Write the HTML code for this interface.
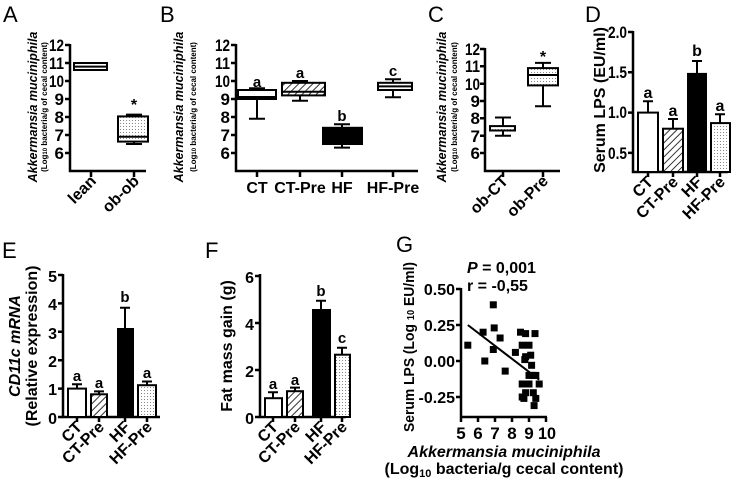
<!DOCTYPE html>
<html><head><meta charset="utf-8"><style>
html,body{margin:0;padding:0;background:#fff;}
svg{display:block;font-family:"Liberation Sans",Arial,sans-serif;}
.t{font-weight:bold;font-size:16px;}
.n{font-weight:bold;font-size:17px;}
.s{font-weight:bold;font-size:15px;}
.L{font-size:22px;}
.ax{stroke:#000;stroke-width:2.5;fill:none;}
.b{stroke:#000;stroke-width:2;}
</style></head><body>
<svg width="735" height="479" viewBox="0 0 735 479">
<defs>
<pattern id="h" width="5" height="5" patternUnits="userSpaceOnUse" patternTransform="rotate(45)"><rect width="5" height="5" fill="#fff"/><line x1="0" y1="0" x2="0" y2="5" stroke="#000" stroke-width="1.6"/></pattern>
<pattern id="d" width="3" height="3" patternUnits="userSpaceOnUse"><rect width="3" height="3" fill="#fff"/><rect width="1" height="1" fill="#888"/></pattern>
</defs>

<!-- A -->
<text x="3" y="22" class="L">A</text>
<text transform="translate(37,107) rotate(-90)" text-anchor="middle" font-size="12.5" font-weight="bold" font-style="italic">Akkermansia muciniphila</text>
<text transform="translate(47,107) rotate(-90)" text-anchor="middle" font-size="8" font-weight="bold">(Log<tspan font-size="6">10</tspan> bacteria/g of cecal content)</text>
<path class="ax" d="M70,44V171H146M91,171v6M134,171v6"/>
<g class="ax"><path d="M65,45h5M65,63h5M65,81h5M65,99h5M65,117h5M65,135h5M65,153h5"/></g>
<g class="n" text-anchor="end"><text x="64" y="51" textLength="15" lengthAdjust="spacingAndGlyphs">12</text><text x="64" y="69" textLength="15" lengthAdjust="spacingAndGlyphs">11</text><text x="64" y="87" textLength="15" lengthAdjust="spacingAndGlyphs">10</text><text x="64" y="105">9</text><text x="64" y="123">8</text><text x="64" y="141">7</text><text x="64" y="159">6</text></g>
<rect x="74" y="63" width="33" height="7" fill="#fff" class="b"/><line x1="74" y1="66.6" x2="107" y2="66.6" class="b"/>
<path class="b" d="M126,114.6h16M134,114.6V116.4M126,144h16M134,144v-2.4"/>
<rect x="118" y="116.4" width="30" height="25.2" fill="url(#d)" class="b"/><line x1="118" y1="136.8" x2="148" y2="136.8" class="b"/>
<text x="134" y="110" text-anchor="middle" class="t">*</text>
<g class="t" text-anchor="end"><text transform="translate(97,182) rotate(-45)">lean</text><text transform="translate(140,182) rotate(-45)">ob-ob</text></g>

<!-- B -->
<text x="160" y="22" class="L">B</text>
<text transform="translate(183,107) rotate(-90)" text-anchor="middle" font-size="12.5" font-weight="bold" font-style="italic">Akkermansia muciniphila</text>
<text transform="translate(196,107) rotate(-90)" text-anchor="middle" font-size="8" font-weight="bold">(Log<tspan font-size="6">10</tspan> bacteria/g of cecal content)</text>
<path class="ax" d="M236,44V171H418M257,171v6M300,171v6M342,171v6M393,171v6"/>
<g class="ax"><path d="M231,45h5M231,63h5M231,81h5M231,99h5M231,117h5M231,135h5M231,153h5"/></g>
<g class="n" text-anchor="end"><text x="230" y="51" textLength="15" lengthAdjust="spacingAndGlyphs">12</text><text x="230" y="69" textLength="15" lengthAdjust="spacingAndGlyphs">11</text><text x="230" y="87" textLength="15" lengthAdjust="spacingAndGlyphs">10</text><text x="230" y="105">9</text><text x="230" y="123">8</text><text x="230" y="141">7</text><text x="230" y="159">6</text></g>
<path class="b" d="M249,88.2h16M257,88.2V118.8M249,118.8h16"/>
<rect x="238" y="90" width="38" height="9" fill="#fff" class="b"/><line x1="238" y1="97" x2="276" y2="97" class="b"/>
<path class="b" d="M292,81h16M300,81v20M292,100.8h16"/>
<rect x="282" y="82.8" width="43" height="12.6" fill="url(#h)" class="b"/><line x1="282" y1="91.8" x2="325" y2="91.8" class="b"/>
<path class="b" d="M334,124.2h16M342,124.2v24M334,147.6h16"/>
<rect x="323" y="127.8" width="39" height="16.2" fill="#000" class="b"/>
<path class="b" d="M385,79.2h16M393,79.2v18M385,97.2h16"/>
<rect x="378" y="82.8" width="34" height="7.2" fill="#fff" class="b"/><line x1="378" y1="86.4" x2="412" y2="86.4" class="b"/>
<g class="s" text-anchor="middle"><text x="257" y="87">a</text><text x="300" y="78">a</text><text x="342" y="121">b</text><text x="393" y="76">c</text></g>
<g class="t" text-anchor="middle"><text x="257" y="193">CT</text><text x="300" y="193">CT-Pre</text><text x="342" y="193">HF</text><text x="393" y="193">HF-Pre</text></g>

<!-- C -->
<text x="428" y="22" class="L">C</text>
<text transform="translate(446,107) rotate(-90)" text-anchor="middle" font-size="12.5" font-weight="bold" font-style="italic">Akkermansia muciniphila</text>
<text transform="translate(457,107) rotate(-90)" text-anchor="middle" font-size="8" font-weight="bold">(Log<tspan font-size="6">10</tspan> bacteria/g of cecal content)</text>
<path class="ax" d="M485,48V171H560M503,171v6M543,171v6"/>
<g class="ax"><path d="M480,49h5M480,66.3h5M480,83.7h5M480,101h5M480,118.3h5M480,135.7h5M480,153h5"/></g>
<g class="n" text-anchor="end"><text x="480" y="55" textLength="15" lengthAdjust="spacingAndGlyphs">12</text><text x="480" y="72" textLength="15" lengthAdjust="spacingAndGlyphs">11</text><text x="480" y="90" textLength="15" lengthAdjust="spacingAndGlyphs">10</text><text x="480" y="107">9</text><text x="480" y="124">8</text><text x="480" y="142">7</text><text x="480" y="159">6</text></g>
<path class="b" d="M495,117.5h16M503,117.5v18M495,135.7h16"/>
<rect x="490" y="126.1" width="25" height="4.4" fill="url(#d)" class="b"/>
<path class="b" d="M535,62.9h16M543,62.9v43.3M535,106.2h16"/>
<rect x="528" y="68.1" width="30" height="17.3" fill="url(#d)" class="b"/><line x1="528" y1="75" x2="558" y2="75" class="b"/>
<text x="543" y="62" text-anchor="middle" class="t">*</text>
<g class="t" text-anchor="end"><text transform="translate(509,182) rotate(-45)">ob-CT</text><text transform="translate(549,182) rotate(-45)">ob-Pre</text></g>

<!-- D -->
<text x="585" y="22" class="L">D</text>
<text transform="translate(605,100) rotate(-90)" text-anchor="middle" class="t">Serum LPS (EU/ml)</text>
<path class="ax" d="M633,31V172H728M648,172v5M673,172v5M697,172v5M720,172v5"/>
<g class="ax"><path d="M628,32h5M628,72.3h5M628,112.6h5M628,152.9h5"/></g>
<g class="n" text-anchor="end"><text x="627" y="38" textLength="19" lengthAdjust="spacingAndGlyphs">2.0</text><text x="627" y="78" textLength="19" lengthAdjust="spacingAndGlyphs">1.5</text><text x="627" y="118" textLength="19" lengthAdjust="spacingAndGlyphs">1.0</text><text x="627" y="159" textLength="19" lengthAdjust="spacingAndGlyphs">0.5</text></g>
<path class="b" d="M648,112.6V101.3M643,101.3h10M673,128.7V119M668,119h10M697,73.9V61M692,61h10M720,123.1V114.2M715,114.2h10"/>
<rect x="638" y="112.6" width="20" height="59.4" fill="#fff" class="b"/>
<rect x="663" y="128.7" width="20" height="43.3" fill="url(#h)" class="b"/>
<rect x="688" y="73.9" width="18" height="98.1" fill="#000" class="b"/>
<rect x="711" y="123.1" width="19" height="48.9" fill="url(#d)" class="b"/>
<g class="t" text-anchor="middle"><text x="648" y="98">a</text><text x="673" y="116">a</text><text x="697" y="56">b</text><text x="720" y="111">a</text></g>
<g class="t" text-anchor="end"><text transform="translate(654,183) rotate(-45)">CT</text><text transform="translate(679,183) rotate(-45)">CT-Pre</text><text transform="translate(703,183) rotate(-45)">HF</text><text transform="translate(726,183) rotate(-45)">HF-Pre</text></g>

<!-- E -->
<text x="2" y="258" class="L">E</text>
<text transform="translate(20,346) rotate(-90)" text-anchor="middle" class="t" font-style="italic">CD11c mRNA</text>
<text transform="translate(37,346) rotate(-90)" text-anchor="middle" class="t">(Relative expression)</text>
<path class="ax" d="M63,274V417H160M77,417v5M99,417v5M125,417v5M147,417v5"/>
<g class="ax"><path d="M58,275h5M58,303.4h5M58,331.8h5M58,360.2h5M58,388.6h5M58,417h5"/></g>
<g class="t" text-anchor="end" font-size="19"><text x="57" y="282">5</text><text x="57" y="310">4</text><text x="57" y="339">3</text><text x="57" y="367">2</text><text x="57" y="395">1</text><text x="57" y="424">0</text></g>
<path class="b" d="M77,388.6V384.3M72,384.3h10M99,394.3v-3M94,391.4h10M125,329V307.7M120,307.7h10M147,385.2v-4M142,381.5h10"/>
<rect x="68" y="388.6" width="18" height="28.4" fill="#fff" class="b"/>
<rect x="91" y="394.3" width="16" height="22.7" fill="url(#h)" class="b"/>
<rect x="118" y="329" width="15" height="88" fill="#000" class="b"/>
<rect x="138" y="385.2" width="18" height="31.8" fill="url(#d)" class="b"/>
<g class="s" text-anchor="middle"><text x="77" y="381">a</text><text x="99" y="388">a</text><text x="125" y="302">b</text><text x="147" y="378">a</text></g>
<g class="t" text-anchor="end"><text transform="translate(83,428) rotate(-45)">CT</text><text transform="translate(105,428) rotate(-45)">CT-Pre</text><text transform="translate(131,428) rotate(-45)">HF</text><text transform="translate(153,428) rotate(-45)">HF-Pre</text></g>

<!-- F -->
<text x="205" y="258" class="L">F</text>
<text transform="translate(232,346) rotate(-90)" text-anchor="middle" class="t">Fat mass gain (g)</text>
<path class="ax" d="M260,274V417H346M273,417v5M295,417v5M321,417v5M342,417v5"/>
<g class="ax"><path d="M255,276h5M255,323h5M255,370h5M255,417h5"/></g>
<g class="t" text-anchor="end" font-size="19"><text x="254" y="283">6</text><text x="254" y="330">4</text><text x="254" y="377">2</text><text x="254" y="424">0</text></g>
<path class="b" d="M273,398.2V392.3M268,392.3h10M295,391.2v-3.6M290,387.6h10M321,310v-9.3M316,300.7h10M342,354.7v-7M337,347.7h10"/>
<rect x="265" y="398.2" width="17" height="18.8" fill="#fff" class="b"/>
<rect x="287" y="391.2" width="16" height="25.8" fill="url(#h)" class="b"/>
<rect x="313" y="310" width="17" height="107" fill="#000" class="b"/>
<rect x="335" y="354.7" width="15" height="62.3" fill="url(#d)" class="b"/>
<g class="s" text-anchor="middle"><text x="273" y="389">a</text><text x="295" y="385">a</text><text x="321" y="296">b</text><text x="342" y="343">c</text></g>
<g class="t" text-anchor="end"><text transform="translate(279,428) rotate(-45)">CT</text><text transform="translate(301,428) rotate(-45)">CT-Pre</text><text transform="translate(327,428) rotate(-45)">HF</text><text transform="translate(348,428) rotate(-45)">HF-Pre</text></g>

<!-- G -->
<text x="396" y="252" class="L">G</text>
<text transform="translate(414,347) rotate(-90)" text-anchor="middle" class="s" textLength="170" lengthAdjust="spacingAndGlyphs">Serum LPS (Log <tspan font-size="10">10</tspan> EU/ml)</text>
<text x="467" y="273" class="t"><tspan font-style="italic">P</tspan> = 0,001</text>
<text x="467" y="291" class="t">r = -0,55</text>
<path class="ax" d="M461,288V417H547M461,417v5M478,417v5M495,417v5M512,417v5M529,417v5M546,417v5"/>
<g class="ax"><path d="M456,289h5M456,325h5M456,361h5M456,397h5"/></g>
<g class="t" text-anchor="end"><text x="455" y="295">0.50</text><text x="455" y="331">0.25</text><text x="455" y="367">0.00</text><text x="455" y="403">-0.25</text></g>
<g class="n" text-anchor="middle" font-size="18"><text x="461" y="439">5</text><text x="478" y="439">6</text><text x="495" y="439">7</text><text x="512" y="439">8</text><text x="529" y="439">9</text><text x="547" y="439" textLength="18" lengthAdjust="spacingAndGlyphs">10</text></g>
<text x="504" y="457" text-anchor="middle" class="t" font-style="italic">Akkermansia muciniphila</text>
<text x="504" y="474" text-anchor="middle" class="t">(Log<tspan font-size="11" dy="3">10</tspan><tspan dy="-3"> bacteria/g cecal content)</tspan></text>
<line x1="467.8" y1="325" x2="539.2" y2="379.7" stroke="#000" stroke-width="2"/>
<g fill="#000" transform="translate(-3.5,-3.5)">
<rect x="467.8" y="345.2" width="7" height="7"/><rect x="483.1" y="332.2" width="7" height="7"/><rect x="484.8" y="361" width="7" height="7"/><rect x="493.3" y="304.8" width="7" height="7"/><rect x="494.2" y="327.9" width="7" height="7"/><rect x="493.3" y="349.5" width="7" height="7"/><rect x="500.1" y="338" width="7" height="7"/><rect x="505.2" y="371.1" width="7" height="7"/><rect x="515.4" y="352.4" width="7" height="7"/><rect x="520.5" y="332.2" width="7" height="7"/><rect x="522.2" y="345.2" width="7" height="7"/><rect x="525.6" y="333.6" width="7" height="7"/><rect x="525.6" y="356.7" width="7" height="7"/><rect x="524.8" y="359.6" width="7" height="7"/><rect x="529" y="345.2" width="7" height="7"/><rect x="530.7" y="355.2" width="7" height="7"/><rect x="531.6" y="365.3" width="7" height="7"/><rect x="529" y="375.4" width="7" height="7"/><rect x="532.4" y="375.4" width="7" height="7"/><rect x="522.2" y="384" width="7" height="7"/><rect x="522.2" y="397" width="7" height="7"/><rect x="523.9" y="398.4" width="7" height="7"/><rect x="525.6" y="392.7" width="7" height="7"/><rect x="529" y="384" width="7" height="7"/><rect x="533.3" y="392.7" width="7" height="7"/><rect x="535" y="333.6" width="7" height="7"/><rect x="535.8" y="398.4" width="7" height="7"/><rect x="534.1" y="405.6" width="7" height="7"/><rect x="539.2" y="384" width="7" height="7"/><rect x="535.8" y="375.4" width="7" height="7"/><rect x="525.6" y="384" width="7" height="7"/>
</g>
</svg>
</body></html>
